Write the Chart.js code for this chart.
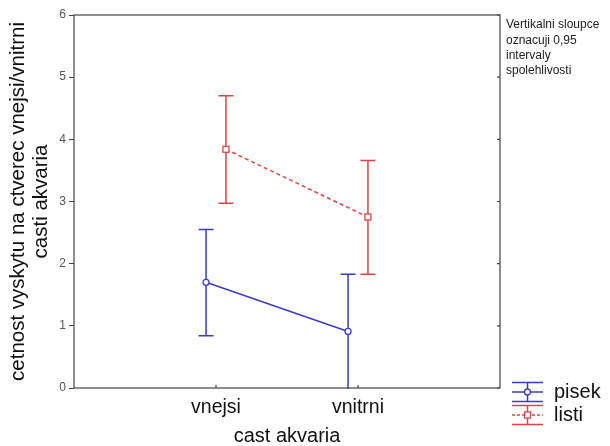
<!DOCTYPE html>
<html>
<head>
<meta charset="utf-8">
<script src="https://cdn.jsdelivr.net/npm/chart.js@4.4.1/dist/chart.umd.min.js"></script>
<style>
html,body{margin:0;padding:0;background:#fff;}
#wrap{width:610px;height:446px;position:relative;}
</style>
</head>
<body>
<div id="wrap"><canvas id="c" width="610" height="446"></canvas></div>
<script>
const categories = ['vnejsi', 'vnitrni'];
const seriesNames = ['pisek', 'listi'];
const pisekMean = [1.70, 0.91];
const pisekLow = [0.84, -0.02];
const pisekHigh = [2.55, 1.83];
const listiMean = [3.84, 2.75];
const listiLow = [2.97, 1.83];
const listiHigh = [4.70, 3.66];
const yTicks = [0, 1, 2, 3, 4, 5, 6];
const noteLines = ['Vertikalni sloupce', 'oznacuji 0,95', 'intervaly', 'spolehlivosti'];
const yTitle = ['cetnost vyskytu na ctverec vnejsi/vnitrni', 'casti akvaria'];
const xTitle = 'cast akvaria';

const BLUE = '#3b3bcc';
const RED = '#e04444';
const FONT = '"Liberation Sans", Arial, sans-serif';
const dodge = 0.07;

const pisekPts = pisekMean.map((v, i) => ({x: i + 1 - dodge, y: v}));
const listiPts = listiMean.map((v, i) => ({x: i + 1 + dodge, y: v}));

function drawCircle(ctx, x, y, r, col) {
  ctx.beginPath(); ctx.arc(x, y, r, 0, Math.PI * 2);
  ctx.fillStyle = '#fff'; ctx.fill();
  ctx.strokeStyle = col; ctx.lineWidth = 1.3; ctx.stroke();
}
function drawSquare(ctx, x, y, r, col) {
  ctx.fillStyle = '#fff'; ctx.fillRect(x - r, y - r, 2 * r, 2 * r);
  ctx.strokeStyle = col; ctx.lineWidth = 1.3; ctx.strokeRect(x - r, y - r, 2 * r, 2 * r);
}

const errPlugin = {
  id: 'errbars',
  beforeDatasetsDraw(chart) {
    const {ctx, chartArea: a, scales: {x, y}} = chart;
    ctx.save();
    ctx.beginPath(); ctx.rect(a.left, a.top, a.right - a.left, a.bottom - a.top + 1); ctx.clip();
    const groups = [
      {pts: pisekPts, lo: pisekLow, hi: pisekHigh, col: BLUE},
      {pts: listiPts, lo: listiLow, hi: listiHigh, col: RED}
    ];
    groups.forEach(g => {
      ctx.strokeStyle = g.col; ctx.lineWidth = 1.5;
      g.pts.forEach((p, i) => {
        const px = x.getPixelForValue(p.x);
        const yl = y.getPixelForValue(g.lo[i]);
        const yh = y.getPixelForValue(g.hi[i]);
        ctx.beginPath();
        ctx.moveTo(px, yl); ctx.lineTo(px, yh);
        ctx.moveTo(px - 7.5, yh); ctx.lineTo(px + 7.5, yh);
        if (g.lo[i] >= 0) { ctx.moveTo(px - 7.5, yl); ctx.lineTo(px + 7.5, yl); }
        ctx.stroke();
      });
    });
    ctx.restore();
  },
  afterDatasetsDraw(chart) {
    const {ctx, chartArea: a, scales: {x, y}} = chart;
    ctx.save();
    pisekPts.forEach(p => drawCircle(ctx, x.getPixelForValue(p.x), y.getPixelForValue(p.y), 3, BLUE));
    listiPts.forEach(p => drawSquare(ctx, x.getPixelForValue(p.x), y.getPixelForValue(p.y), 3, RED));
    ctx.strokeStyle = '#444'; ctx.lineWidth = 1.2;
    ctx.strokeRect(a.left, a.top, a.right - a.left, a.bottom - a.top);
    ctx.beginPath();
    yTicks.forEach(t => { const py = y.getPixelForValue(t); ctx.moveTo(a.right, py); ctx.lineTo(a.right - 3, py); });
    categories.forEach((c, i) => { const px = x.getPixelForValue(i + 1); ctx.moveTo(px, a.bottom); ctx.lineTo(px, a.bottom - 3); });
    ctx.stroke();
    ctx.fillStyle = '#222'; ctx.font = '12px ' + FONT; ctx.textBaseline = 'middle'; ctx.textAlign = 'left';
    noteLines.forEach((t, i) => ctx.fillText(t, a.right + 6, 25 + i * 15.3));
    const lx0 = 512, lx1 = 543, lc = 527.5;
    const legend = [
      {name: seriesNames[0], col: BLUE, yc: 392, dash: [], marker: 'c'},
      {name: seriesNames[1], col: RED, yc: 415, dash: [3, 2], marker: 's'}
    ];
    legend.forEach(L => {
      ctx.strokeStyle = L.col; ctx.lineWidth = 1.5; ctx.setLineDash([]);
      ctx.beginPath();
      ctx.moveTo(lx0, L.yc - 9.5); ctx.lineTo(lx1, L.yc - 9.5);
      ctx.moveTo(lx0, L.yc + 9.5); ctx.lineTo(lx1, L.yc + 9.5);
      ctx.moveTo(lc, L.yc - 9.5); ctx.lineTo(lc, L.yc + 9.5);
      ctx.stroke();
      ctx.setLineDash(L.dash);
      ctx.beginPath(); ctx.moveTo(lx0, L.yc); ctx.lineTo(lx1, L.yc); ctx.stroke();
      ctx.setLineDash([]);
      if (L.marker === 'c') drawCircle(ctx, lc, L.yc, 3, L.col); else drawSquare(ctx, lc, L.yc, 3, L.col);
      ctx.fillStyle = '#111'; ctx.font = '20px ' + FONT; ctx.textBaseline = 'middle';
      ctx.fillText(L.name, 554, L.yc);
    });
    ctx.restore();
  }
};

new Chart(document.getElementById('c'), {
  type: 'line',
  data: {
    datasets: [
      {label: seriesNames[0], data: pisekPts, borderColor: BLUE, borderWidth: 1.5, pointRadius: 0, fill: false, tension: 0},
      {label: seriesNames[1], data: listiPts, borderColor: RED, borderWidth: 1.5, borderDash: [4, 3], pointRadius: 0, fill: false, tension: 0}
    ]
  },
  options: {
    responsive: false,
    animation: false,
    layout: {padding: {top: 15, right: 110, left: 0, bottom: 0}},
    plugins: {legend: {display: false}, tooltip: {enabled: false}},
    scales: {
      x: {
        type: 'linear', min: 0, max: 3,
        afterBuildTicks: s => { s.ticks = [0, 1, 2, 3].map(v => ({value: v})); },
        ticks: {
          callback: v => (v >= 1 && v <= categories.length) ? categories[v - 1] : '',
          font: {family: FONT, size: 19.5}, color: '#111', padding: 8, maxRotation: 0, autoSkip: false
        },
        grid: {display: false, drawTicks: false},
        border: {display: false},
        title: {display: true, text: xTitle, font: {family: FONT, size: 20, lineHeight: 1.0}, color: '#111', padding: {top: 0, bottom: 0}},
        afterFit: s => { s.height = 58; }
      },
      y: {
        type: 'linear', min: 0, max: 6,
        afterBuildTicks: s => { s.ticks = yTicks.map(v => ({value: v})); },
        ticks: {font: {family: FONT, size: 12}, color: '#555', padding: 3},
        grid: {drawOnChartArea: false, drawTicks: true, tickLength: 5, color: '#444'},
        border: {display: false},
        title: {display: true, text: yTitle, font: {family: FONT, size: 20.5, lineHeight: 1.12}, color: '#111', padding: {top: 7, bottom: 0}},
        afterFit: s => { s.width = 74; }
      }
    }
  },
  plugins: [errPlugin]
});
</script>
</body>
</html>
